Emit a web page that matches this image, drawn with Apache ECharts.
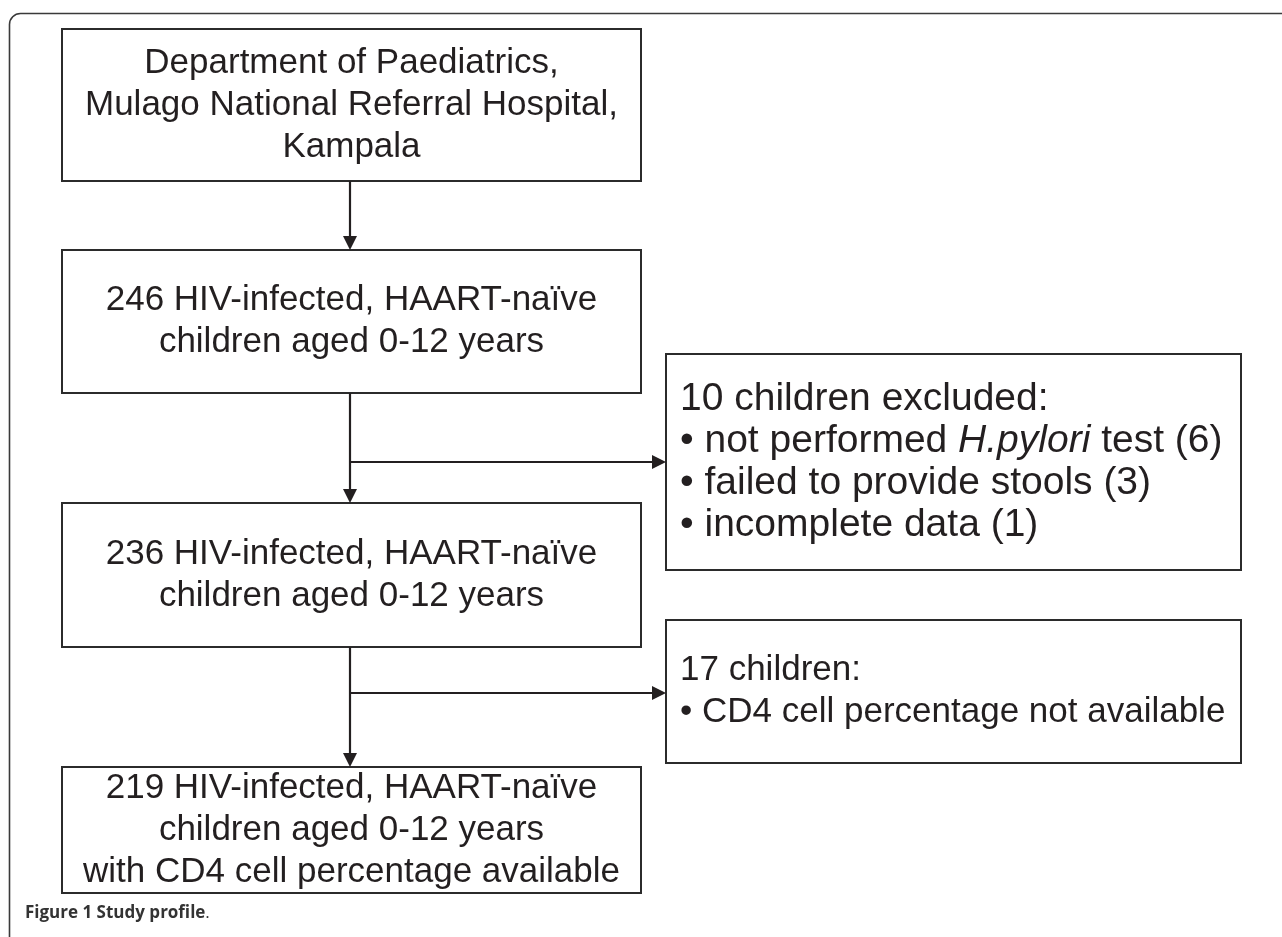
<!DOCTYPE html>
<html>
<head>
<meta charset="utf-8">
<script src="https://cdn.jsdelivr.net/npm/echarts@6/dist/echarts.min.js"></script>
<style>
  html, body { margin: 0; padding: 0; background: #ffffff; }
  #chart { width: 1282px; height: 937px; }
</style>
</head>
<body>
<div id="chart"></div>
<script>
// ---- Data ----
const sourceLines = ['Department of Paediatrics,', 'Mulago National Referral Hospital,', 'Kampala'];
const cohortCounts = [246, 236, 219];
const excludedCounts = [10, 17];
const exclusionReasons = ['not performed {i|H.pylori} test', 'failed to provide stools', 'incomplete data'];
const exclusionReasonCounts = [6, 3, 1];
const cd4Reason = ['CD4 cell percentage not available'];
const captionBold = 'Figure 1 Study profile';

// ---- Texts built from data ----
const cohortText = n => n + ' HIV-infected, HAART-naïve\nchildren aged 0-12 years';
const boxTexts = [
  sourceLines.join('\n'),
  cohortText(cohortCounts[0]),
  excludedCounts[0] + ' children excluded:\n' +
    exclusionReasons.map((r, i) => '• ' + r + ' (' + exclusionReasonCounts[i] + ')').join('\n'),
  cohortText(cohortCounts[1]),
  excludedCounts[1] + ' children:\n' + cd4Reason.map(r => '• ' + r).join('\n'),
  cohortText(cohortCounts[2]) + '\nwith CD4 cell percentage available'
];

// ---- Layout (diagram geometry, in canvas units) ----
const boxLayout = [
  { x1: 62, y1: 29, x2: 641, y2: 181, align: 'center', fs: 35 },
  { x1: 62, y1: 250, x2: 641, y2: 393, align: 'center', fs: 35 },
  { x1: 666, y1: 354, x2: 1241, y2: 570, align: 'left', fs: 39 },
  { x1: 62, y1: 503, x2: 641, y2: 647, align: 'center', fs: 35 },
  { x1: 666, y1: 620, x2: 1241, y2: 763, align: 'left', fs: 35 },
  { x1: 62, y1: 767, x2: 641, y2: 893, align: 'center', fs: 35 }
];
const arrowLayout = [
  [350, 181, 350, 250],
  [350, 393, 350, 503],
  [350, 462, 666, 462],
  [350, 647, 350, 767],
  [350, 693, 666, 693]
];

const INK = '#231f20';
const FONT = '"Liberation Sans", Arial, Helvetica, sans-serif';
const LH = 42;

const chart = echarts.init(document.getElementById('chart'), null, { renderer: 'canvas' });

const option = {
  backgroundColor: '#ffffff',
  animation: false,
  grid: { left: 0, right: 0, top: 0, bottom: 0 },
  xAxis: { type: 'value', min: 0, max: 1282, show: false },
  yAxis: { type: 'value', min: 0, max: 937, inverse: true, show: false },
  graphic: [
    {
      type: 'rect',
      shape: { x: 9.5, y: 13.5, width: 1320, height: 1000, r: 11 },
      style: { fill: 'none', stroke: '#3a3a3a', lineWidth: 1.6 },
      silent: true
    },
    {
      type: 'text',
      x: 25, y: 913,
      style: {
        text: '{b|' + captionBold + '}{n|.}',
        verticalAlign: 'middle',
        rich: {
          b: { fontFamily: '"Open Sans", "Noto Sans", sans-serif', fontWeight: 'bold', fontSize: 17, fill: '#333333' },
          n: { fontFamily: '"Open Sans", "Noto Sans", sans-serif', fontWeight: 'normal', fontSize: 17, fill: '#333333' }
        }
      },
      silent: true
    }
  ],
  series: [
    {
      type: 'custom',
      name: 'boxes',
      coordinateSystem: 'cartesian2d',
      silent: true,
      data: boxLayout.map((b, i) => ({ value: [b.x1, b.y1, b.x2, b.y2], name: String(i) })),
      renderItem: function (params, api) {
        const i = params.dataIndex;
        const p1 = api.coord([api.value(0), api.value(1)]);
        const p2 = api.coord([api.value(2), api.value(3)]);
        const align = boxLayout[i].align;
        const fs = boxLayout[i].fs;
        const tx = align === 'left' ? p1[0] + 14 : (p1[0] + p2[0]) / 2;
        const ty = (p1[1] + p2[1]) / 2;
        return {
          type: 'group',
          children: [
            {
              type: 'rect',
              shape: { x: p1[0], y: p1[1], width: p2[0] - p1[0], height: p2[1] - p1[1] },
              style: { fill: '#ffffff', stroke: '#2b2b2b', lineWidth: 2 }
            },
            {
              type: 'text',
              style: {
                text: boxTexts[i],
                x: tx, y: ty,
                align: align,
                verticalAlign: 'middle',
                fontFamily: FONT,
                fontSize: fs,
                lineHeight: LH,
                fill: INK,
                rich: {
                  i: { fontFamily: FONT, fontSize: fs, lineHeight: LH, fontStyle: 'italic', fill: INK }
                }
              }
            }
          ]
        };
      }
    },
    {
      type: 'custom',
      name: 'arrows',
      coordinateSystem: 'cartesian2d',
      silent: true,
      data: arrowLayout,
      renderItem: function (params, api) {
        const a = api.coord([api.value(0), api.value(1)]);
        const b = api.coord([api.value(2), api.value(3)]);
        const dx = b[0] - a[0], dy = b[1] - a[1];
        const len = Math.sqrt(dx * dx + dy * dy);
        const ux = dx / len, uy = dy / len;
        const headL = 14, headW = 7;
        const base = [b[0] - ux * headL, b[1] - uy * headL];
        return {
          type: 'group',
          children: [
            {
              type: 'line',
              shape: { x1: a[0], y1: a[1], x2: base[0], y2: base[1] },
              style: { stroke: INK, lineWidth: 2.2 }
            },
            {
              type: 'polygon',
              shape: {
                points: [
                  [b[0], b[1]],
                  [base[0] - uy * headW, base[1] + ux * headW],
                  [base[0] + uy * headW, base[1] - ux * headW]
                ]
              },
              style: { fill: INK }
            }
          ]
        };
      }
    }
  ]
};

chart.setOption(option);
</script>
</body>
</html>
